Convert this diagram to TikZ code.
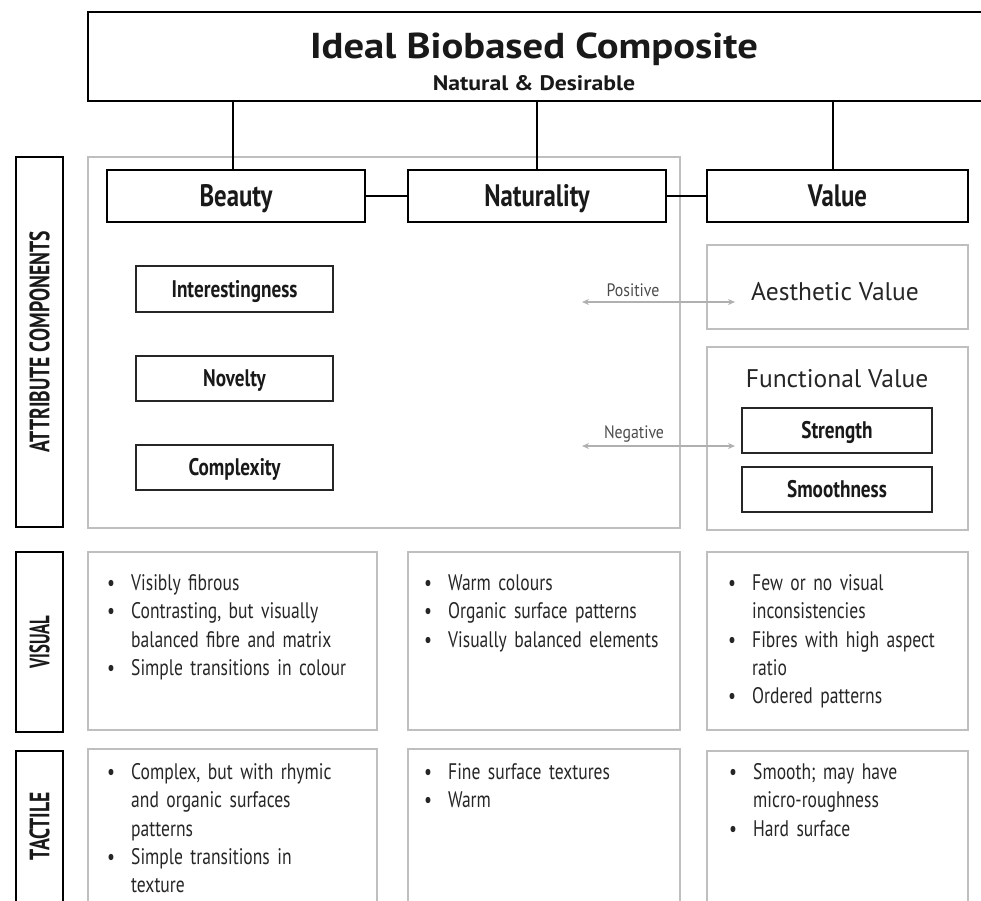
\documentclass[tikz,border=0pt]{standalone}
\usepackage{fontspec}
\setmainfont{PT Sans}
\newfontfamily\bulletf{PT Sans}[FakeStretch=0.78]
\newfontfamily\boxf{PT Sans}[FakeStretch=0.80]
\newfontfamily\sidef{PT Sans}[FakeStretch=0.70]
\newfontfamily\visf{PT Sans}[FakeStretch=0.60]
\newfontfamily\labf{PT Sans}[FakeStretch=0.88]
\newfontfamily\titlef{PT Sans}[FakeStretch=1.13]
\usetikzlibrary{arrows.meta}
\definecolor{boxgray}{HTML}{BFBFBF}
\definecolor{arrgray}{HTML}{B0B0B0}
\definecolor{txt}{HTML}{262626}
\newcommand{\myitem}[1]{\par\noindent\hangindent=24pt\hangafter=1\makebox[24pt][l]{\textbullet}#1\par}
\tikzset{
  titlebox/.style={draw=black, line width=2.8pt, inner sep=0pt},
  mainbox/.style={draw=black, line width=2.6pt, fill=white, inner sep=0pt,
    font=\boxf\bfseries\fontsize{31}{31}\selectfont, text=black!90,
    text height=21.7pt, text depth=0pt},
  graybox/.style={draw=boxgray, line width=2.2pt, inner sep=0pt},
  subbox/.style={draw=black!85, line width=1.3pt, fill=white, inner sep=0pt,
    font=\boxf\bfseries\fontsize{24}{24}\selectfont, text=black!90,
    text height=16.8pt, text depth=0pt},
  sidebox/.style={draw=black, line width=1.8pt, inner sep=0pt, rotate=90,
    font=\sidef\bfseries\fontsize{28}{28}\selectfont, text=black!90,
    text height=19.6pt, text depth=0pt},
  conn/.style={draw=black, line width=2.6pt},
  relarrow/.style={draw=arrgray, line width=2pt,
    {Stealth[length=7pt,width=6pt]}-{Stealth[length=7pt,width=6pt]}},
  rellabel/.style={inner sep=0pt, font=\labf\fontsize{18}{18}\selectfont, text=black!70},
  valtext/.style={inner sep=0pt, font=\fontsize{25.5}{25.5}\selectfont, text=txt},
  bullets/.style={inner sep=0pt, anchor=north west, text width=270pt, align=left,
    font=\bulletf\fontsize{22.5}{28.3}\selectfont, text=txt},
}
\begin{document}
\begin{tikzpicture}[x=1pt,y=-1pt]
\useasboundingbox (0,0) rectangle (981,900);
\clip (0,0) rectangle (981,900);

% title
\node[titlebox, minimum width=920pt, minimum height=89pt] (title) at (548,56.5) {};
\node[inner sep=0pt, anchor=base, font=\titlef\bfseries\fontsize{36}{36}\selectfont, text=black!90] (titletext) at (534,58) {Ideal Biobased Composite};
\node[inner sep=0pt, anchor=base, font=\titlef\bfseries\fontsize{21}{21}\selectfont, text=black!90] (subtitle) at (534,90) {Natural \& Desirable};

% gray frames
\node[graybox, minimum width=592pt, minimum height=371pt] (big) at (384,342.5) {};
\node[graybox, minimum width=261pt, minimum height=84pt] (aesth) at (837.5,287) {};
\node[graybox, minimum width=261pt, minimum height=183pt] (func) at (837.5,438.5) {};

% side labels
\node[sidebox, minimum width=370pt, minimum height=47pt] (attr) at (39.5,342) {ATTRIBUTE COMPONENTS};
\node[sidebox, minimum width=180pt, minimum height=47pt, font=\visf\bfseries\fontsize{28}{28}\selectfont] (visual) at (39.5,642) {VISUAL};
\node[sidebox, minimum width=151pt, minimum height=47pt] (tactile) at (39.5,826.5) {TACTILE};

% main attribute boxes
\node[mainbox, minimum width=258pt, minimum height=52pt] (beauty) at (236,196) {Beauty};
\node[mainbox, minimum width=258pt, minimum height=52pt] (nat) at (537,196) {Naturality};
\node[mainbox, minimum width=261pt, minimum height=52pt] (value) at (837.5,196) {Value};

\draw[conn] ([xshift=-3pt]beauty.north |- title.south) -- ([xshift=-3pt]beauty.north);
\draw[conn] (nat.north |- title.south) -- (nat.north);
\draw[conn] ([xshift=-4.5pt]value.north |- title.south) -- ([xshift=-4.5pt]value.north);
\draw[conn] (beauty.east) -- (nat.west);
\draw[conn] (nat.east) -- (value.west);

% beauty components
\node[subbox, minimum width=197pt, minimum height=46pt] (inter) at (234.5,289) {Interestingness};
\node[subbox, minimum width=197pt, minimum height=45pt] (novel) at (234.5,378.5) {Novelty};
\node[subbox, minimum width=197pt, minimum height=45pt] (compl) at (234.5,467.5) {Complexity};

% value components
\node[valtext] (aesthtext) at (835,292) {Aesthetic Value};
\node[valtext] (functext) at (837,379) {Functional Value};
\node[subbox, minimum width=190pt, minimum height=45pt] (strength) at (837,430.5) {Strength};
\node[subbox, minimum width=190pt, minimum height=45pt] (smooth) at (837,489.5) {Smoothness};

% relation arrows
\coordinate (posL) at (582,302);
\coordinate (posR) at (735,302);
\coordinate (negL) at (582,446);
\coordinate (negR) at (735,446);
\draw[relarrow] (posL) -- (posR);
\draw[relarrow] (negL) -- (negR);
\node[rellabel] (poslabel) at (633,290) {Positive};
\node[rellabel] (neglabel) at (634,434) {Negative};

% visual row
\node[graybox, minimum width=289pt, minimum height=178pt] (vbeauty) at (232.5,641) {};
\node[graybox, minimum width=272pt, minimum height=178pt] (vnat) at (544,641) {};
\node[graybox, minimum width=261pt, minimum height=178pt] (vvalue) at (837.5,641) {};
% tactile row
\node[graybox, minimum width=289pt, minimum height=180pt] (tbeauty) at (232.5,839) {};
\node[graybox, minimum width=272pt, minimum height=180pt] (tnat) at (544,839) {};
\node[graybox, minimum width=261pt, minimum height=180pt] (tvalue) at (837.5,841) {};

\node[bullets] (vbtext) at (107,562) {\myitem{Visibly fibrous}\myitem{Contrasting, but visually\newline balanced fibre and matrix}\myitem{Simple transitions in colour}};
\node[bullets] (vntext) at (424,562) {\myitem{Warm colours}\myitem{Organic surface patterns}\myitem{Visually balanced elements}};
\node[bullets] (vvtext) at (728,562) {\myitem{Few or no visual\newline inconsistencies}\myitem{Fibres with high aspect\newline ratio}\myitem{Ordered patterns}};
\node[bullets] (tbtext) at (107,751) {\myitem{Complex, but with rhymic\newline and organic surfaces\newline patterns}\myitem{Simple transitions in\newline texture}};
\node[bullets] (tntext) at (424,751) {\myitem{Fine surface textures}\myitem{Warm}};
\node[bullets] (tvtext) at (729,751) {\myitem{Smooth; may have\newline micro-roughness}\myitem{Hard surface}};
\end{tikzpicture}
\end{document}
